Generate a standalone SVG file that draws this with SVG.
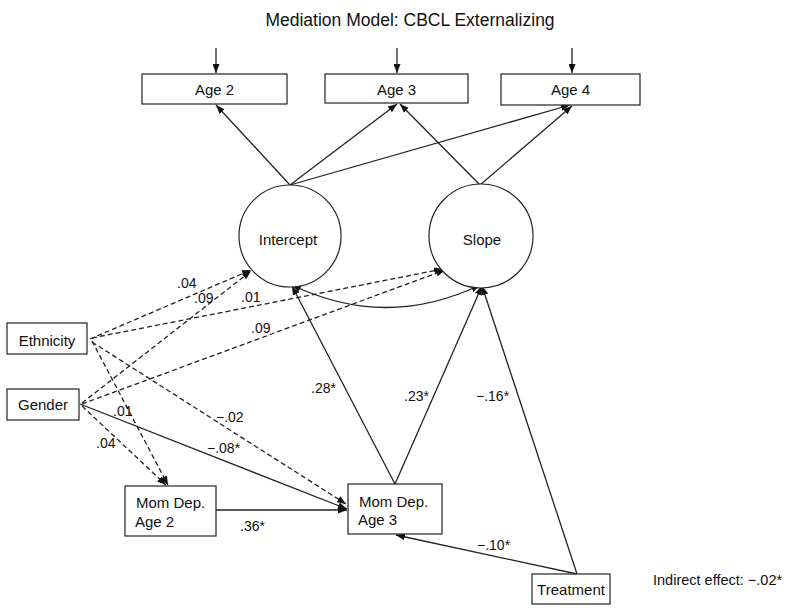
<svg xmlns="http://www.w3.org/2000/svg" width="800" height="611" viewBox="0 0 800 611">
<style>
text{font-family:"Liberation Sans",Arial,sans-serif;fill:#111;}
.box{fill:#fff;stroke:#222;stroke-width:1.2;}
.lbl{font-size:15px;}
.num{font-size:14px;}
.c{stroke:#222;stroke-width:1.3;fill:none;}
.d{stroke:#222;stroke-width:1.3;fill:none;stroke-dasharray:5,3;}
</style>
<defs>
<marker id="ah" markerWidth="9" markerHeight="7" refX="9" refY="3.5" orient="auto" markerUnits="userSpaceOnUse">
<path d="M0,0 L9,3.5 L0,7 z" fill="#111"/>
</marker>
<marker id="as" markerWidth="9" markerHeight="7" refX="0" refY="3.5" orient="auto" markerUnits="userSpaceOnUse">
<path d="M9,0 L0,3.5 L9,7 z" fill="#111"/>
</marker>
</defs>
<text x="410" y="26" font-size="17.5" text-anchor="middle">Mediation Model: CBCL Externalizing</text>

<g id="connectors">
<line class="c" x1="216" y1="48" x2="216" y2="73" marker-end="url(#ah)"/>
<line class="c" x1="397" y1="48" x2="397" y2="73" marker-end="url(#ah)"/>
<line class="c" x1="572" y1="48" x2="572" y2="73" marker-end="url(#ah)"/>
<line class="c" x1="290" y1="185" x2="216" y2="105" marker-end="url(#ah)"/>
<line class="c" x1="290" y1="185" x2="397" y2="104" marker-end="url(#ah)"/>
<line class="c" x1="290" y1="185" x2="570" y2="105" marker-end="url(#ah)"/>
<line class="c" x1="480" y1="185" x2="400" y2="104" marker-end="url(#ah)"/>
<line class="c" x1="480" y1="185" x2="572" y2="106" marker-end="url(#ah)"/>
<path class="c" d="M292 285 Q386 330 480 285" marker-start="url(#as)" marker-end="url(#ah)"/>
<line class="d" x1="90" y1="339" x2="251" y2="270" marker-end="url(#ah)"/>
<line class="d" x1="82" y1="403" x2="251" y2="271" marker-end="url(#ah)"/>
<line class="d" x1="92" y1="338" x2="443" y2="269" marker-end="url(#ah)"/>
<line class="d" x1="82" y1="404" x2="445" y2="270" marker-end="url(#ah)"/>
<line class="d" x1="92" y1="341" x2="168" y2="485" marker-end="url(#ah)"/>
<line class="d" x1="82" y1="406" x2="166" y2="485" marker-end="url(#ah)"/>
<line class="d" x1="92" y1="342" x2="346" y2="504" marker-end="url(#ah)"/>
<line class="c" x1="80" y1="404" x2="347" y2="509" marker-end="url(#ah)"/>
<line class="c" x1="216" y1="510" x2="347" y2="510" marker-end="url(#ah)"/>
<line class="c" x1="395" y1="484" x2="292" y2="286" marker-end="url(#ah)"/>
<line class="c" x1="395" y1="484" x2="482" y2="286" marker-end="url(#ah)"/>
<line class="c" x1="577" y1="574" x2="482" y2="286" marker-end="url(#ah)"/>
<line class="c" x1="577" y1="574" x2="396" y2="535" marker-end="url(#ah)"/>
<text class="num" x="177" y="288">.04</text>
<text class="num" x="194" y="303">.09</text>
<text class="num" x="241" y="302">.01</text>
<text class="num" x="251" y="333">.09</text>
<text class="num" x="113" y="416">.01</text>
<text class="num" x="96" y="448">.04</text>
<text class="num" x="216" y="422">−.02</text>
<text class="num" x="207" y="453">−.08*</text>
<text class="num" x="240" y="531">.36*</text>
<text class="num" x="311" y="393">.28*</text>
<text class="num" x="404" y="401">.23*</text>
<text class="num" x="476" y="401">−.16*</text>
<text class="num" x="477" y="550">−.10*</text>
</g>

<g id="age2"><rect class="box" x="142" y="74" width="145" height="30"/><text class="lbl" x="214.5" y="95" text-anchor="middle">Age 2</text></g>
<g id="age3"><rect class="box" x="325" y="74" width="143" height="29"/><text class="lbl" x="396.5" y="95" text-anchor="middle">Age 3</text></g>
<g id="age4"><rect class="box" x="501" y="74" width="139" height="31"/><text class="lbl" x="570.5" y="95" text-anchor="middle">Age 4</text></g>
<g id="intercept"><circle class="box" cx="290" cy="236" r="51"/><text class="lbl" x="288" y="245" text-anchor="middle">Intercept</text></g>
<g id="slope"><circle class="box" cx="481" cy="236" r="52"/><text class="lbl" x="482" y="245" text-anchor="middle">Slope</text></g>
<g id="ethnicity"><rect class="box" x="7" y="323" width="80" height="31"/><text class="lbl" x="47" y="346" text-anchor="middle">Ethnicity</text></g>
<g id="gender"><rect class="box" x="7" y="389" width="72" height="31"/><text class="lbl" x="43" y="410" text-anchor="middle">Gender</text></g>
<g id="momdep2"><rect class="box" x="125" y="486" width="91" height="50"/><text class="lbl" x="136" y="508">Mom Dep.</text><text class="lbl" x="135" y="527">Age 2</text></g>
<g id="momdep3"><rect class="box" x="348" y="484" width="94" height="50"/><text class="lbl" x="359" y="507">Mom Dep.</text><text class="lbl" x="358" y="525">Age 3</text></g>
<g id="treatment"><rect class="box" x="532" y="574" width="78" height="30"/><text class="lbl" x="571" y="595" text-anchor="middle">Treatment</text></g>
<text x="653" y="585" font-size="14.5">Indirect effect: −.02*</text>
</svg>
